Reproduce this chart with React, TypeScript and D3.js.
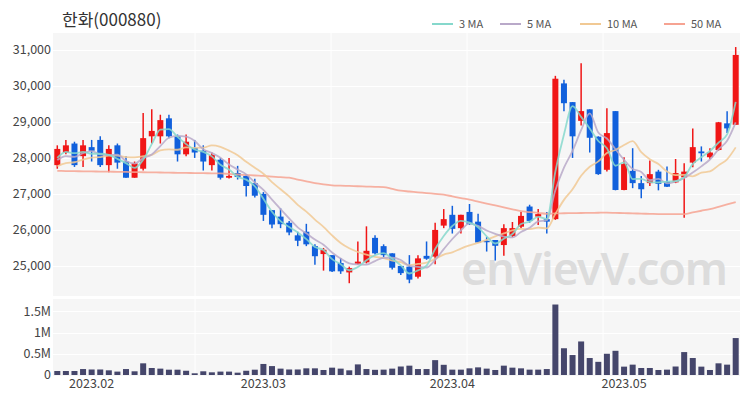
import React, { useEffect, useRef } from "react";
import * as d3 from "d3";

// trading days shown on the chart
const dates = [
  "2023-01-26", "2023-01-27", "2023-01-30", "2023-01-31",
  "2023-02-01", "2023-02-02", "2023-02-03", "2023-02-06", "2023-02-07", "2023-02-08", "2023-02-09", "2023-02-10",
  "2023-02-13", "2023-02-14", "2023-02-15", "2023-02-16", "2023-02-17", "2023-02-20", "2023-02-21", "2023-02-22",
  "2023-02-23", "2023-02-24", "2023-02-27", "2023-02-28",
  "2023-03-02", "2023-03-03", "2023-03-06", "2023-03-07", "2023-03-08", "2023-03-09", "2023-03-10", "2023-03-13",
  "2023-03-14", "2023-03-15", "2023-03-16", "2023-03-17", "2023-03-20", "2023-03-21", "2023-03-22", "2023-03-23",
  "2023-03-24", "2023-03-27", "2023-03-28", "2023-03-29", "2023-03-30", "2023-03-31",
  "2023-04-03", "2023-04-04", "2023-04-05", "2023-04-06", "2023-04-07", "2023-04-10", "2023-04-11", "2023-04-12",
  "2023-04-13", "2023-04-14", "2023-04-17", "2023-04-18", "2023-04-19", "2023-04-20", "2023-04-21", "2023-04-24",
  "2023-04-25", "2023-04-26", "2023-04-27", "2023-04-28",
  "2023-05-02", "2023-05-03", "2023-05-04", "2023-05-08", "2023-05-09", "2023-05-10", "2023-05-11", "2023-05-12",
  "2023-05-15", "2023-05-16", "2023-05-17", "2023-05-18", "2023-05-19", "2023-05-22",
];

const opens = [
  27800, 28150, 28400, 28050, 28300, 28500, 27800, 28350, 27900, 27450,
  27700, 28600, 28600, 29100, 28600, 28100, 28280, 28200, 27800, 27950,
  27450, 27580, 27500, 27300, 27000, 26550, 26370, 26200, 25850, 25950,
  25550, 25330, 25300, 25080, 24820, 25060, 25100, 25780, 25550, 25350,
  25000, 24980, 24700, 25280, 25260, 26120, 26420, 26050, 26500, 26230,
  25700, 25720, 25580, 25830, 26090, 26650, 26370, 26300, 26300, 30070,
  29550, 29030, 29350, 28590, 27670, 29300, 27110, 27640, 27300, 27300,
  27620, 27340, 27320, 27460, 27870, 28180, 28020, 28220, 28960, 28920,
];
const highs = [
  28350, 28500, 28450, 28500, 28500, 28600, 28350, 28400, 28050, 27900,
  29250, 29350, 29200, 29200, 28650, 28650, 28500, 28350, 28150, 28000,
  28000, 27780, 27550, 27420, 27050, 26550, 26600, 26250, 25950, 26170,
  25600, 25500, 25300, 25220, 24980, 25680, 26100, 25850, 25600, 25350,
  25000, 25300, 25300, 25680, 26200, 26580, 26670, 26420, 26720, 26450,
  25800, 25720, 26160, 26220, 26500, 26700, 26580, 26500, 30280, 30170,
  29550, 30630, 29350, 28600, 29380, 29300, 28020, 28270, 27500, 27930,
  27670, 27760, 27970, 27850, 28820, 28320, 28270, 29000, 29300, 31080,
];
const lows = [
  27700, 28100, 27750, 27750, 27900, 27750, 27600, 27700, 27450, 27450,
  27650, 28400, 28400, 28550, 27900, 28050, 28000, 27650, 27650, 27400,
  27430, 27400, 26930, 26900, 26250, 26050, 26050, 25850, 25550, 25550,
  25030, 24870, 24830, 24780, 24520, 25030, 25070, 25320, 25250, 24900,
  24750, 24520, 24650, 25170, 25050, 26050, 25900, 25900, 26140, 25650,
  25400, 25150, 25280, 25800, 26050, 26200, 26140, 25900, 26280, 29300,
  28000, 28900, 28150, 27530, 27620, 27100, 27100, 27160, 26880, 27220,
  27100, 27190, 27300, 26340, 27740, 27900, 27960, 28200, 28690, 28920,
];
const closes = [
  28250, 28350, 27800, 28350, 28200, 27800, 28250, 27870, 27450, 27850,
  28550, 28750, 29050, 28600, 28100, 28450, 28150, 27900, 28080, 27450,
  27500, 27470, 27220, 26950, 26420, 26150, 26160, 25930, 25700, 25600,
  25270, 25450, 24850, 24850, 24940, 25120, 25420, 25350, 25300, 24950,
  24800, 24620, 25210, 25200, 26000, 26300, 26030, 26420, 26160, 25650,
  25660, 25560, 26050, 26050, 26390, 26250, 26440, 26230, 30200, 29520,
  28600, 29300, 28560, 27550, 28690, 27110, 27830, 27300, 27130, 27550,
  27280, 27200, 27580, 27620, 28300, 28130, 28150, 28990, 28820, 30860,
];
// closes before the first visible day (estimated so the short averages start where they do)
const priorCloses = [27500, 27550, 27600, 27650, 27700, 27800, 27900, 27850, 27900];

// 50-day average
const ma50 = [
  27640, 27636, 27632, 27628, 27625, 27621, 27617, 27614, 27610, 27606,
  27602, 27598, 27595, 27591, 27587, 27584, 27580, 27577, 27573, 27570,
  27555, 27540, 27526, 27512, 27500, 27483, 27466, 27450, 27400, 27350,
  27300, 27265, 27240, 27230, 27222, 27213, 27205, 27197, 27190, 27140,
  27090, 27068, 27046, 27024, 27002, 26980, 26933, 26886, 26840, 26787,
  26733, 26680, 26627, 26573, 26520, 26497, 26473, 26450, 26460, 26463,
  26467, 26470, 26473, 26477, 26480, 26473, 26467, 26460, 26453, 26447,
  26440, 26440, 26440, 26440, 26487, 26533, 26580, 26643, 26707, 26770,
];

const volumes = [
  94000, 94000, 94000, 140000, 130000, 130000, 110000, 80000, 140000, 87000,
  275000, 165000, 150000, 125000, 125000, 100000, 40000, 87000, 63000, 80000,
  80000, 55000, 100000, 125000, 260000, 210000, 150000, 130000, 130000, 157000,
  157000, 118000, 173000, 150000, 110000, 250000, 140000, 122000, 126000, 150000,
  200000, 220000, 140000, 140000, 350000, 240000, 126000, 126000, 157000, 180000,
  150000, 118000, 220000, 173000, 157000, 126000, 126000, 140000, 1660000, 630000,
  470000, 790000, 400000, 310000, 500000, 570000, 197000, 244000, 165000, 165000,
  118000, 126000, 200000, 540000, 400000, 197000, 118000, 275000, 244000, 870000,
];

const priceTicks = [25000, 26000, 27000, 28000, 29000, 30000, 31000];
const volumeTicks = [0, 500000, 1000000, 1500000];
const volumeTickLabels = ["0", "0.5M", "1M", "1.5M"];
const monthStarts = ["2023-02-01", "2023-03-02", "2023-04-03", "2023-05-02"];
const monthLabels = ["2023.02", "2023.03", "2023.04", "2023.05"];

const maSeries = [
  { name: "3 MA", period: 3, color: "#86d8cc" },
  { name: "5 MA", period: 5, color: "#b9a9c9" },
  { name: "10 MA", period: 10, color: "#f1c994" },
  { name: "50 MA", period: 50, color: "#f6a392" },
];

const UP = "#f01616";
const DOWN = "#1160dc";
const FONT = "'Noto Sans CJK KR', 'Noto Sans', sans-serif";

const App: React.FC = () => {
  const svgRef = useRef<SVGSVGElement>(null);

  useEffect(() => {
    if (!svgRef.current) return;
    const svg = d3.select(svgRef.current);
    svg.selectAll("*").remove();

    const left = 53;
    const right = 740;
    const priceTop = 33;
    const priceBottom = 296;
    const volTop = 299;
    const volBottom = 376;

    const x = d3.scalePoint<string>().domain(dates).range([left, right]).padding(0.5);
    const y = d3.scaleLinear().domain([24165, 31470]).range([priceBottom, priceTop]);
    const yv = d3.scaleLinear().domain([0, 1790000]).range([375, volTop]);
    const bodyW = 6;

    // panels
    svg.append("rect").attr("x", left).attr("y", priceTop)
      .attr("width", right - left).attr("height", priceBottom - priceTop).attr("fill", "#f6f6f6");
    svg.append("rect").attr("x", left).attr("y", volTop)
      .attr("width", right - left).attr("height", volBottom - volTop).attr("fill", "#f6f6f6");

    // grid
    const vLines = d3.range(1, 5).map((k) => 59 + k * 136);
    const grid = svg.append("g").attr("stroke", "#ffffff").attr("stroke-width", 1);
    grid.selectAll(".hp").data(priceTicks).join("line")
      .attr("x1", left).attr("x2", right)
      .attr("y1", (d) => Math.round(y(d)) + 0.5).attr("y2", (d) => Math.round(y(d)) + 0.5);
    grid.selectAll(".hv").data(volumeTicks.slice(1)).join("line")
      .attr("x1", left).attr("x2", right)
      .attr("y1", (d) => Math.round(yv(d)) + 0.5).attr("y2", (d) => Math.round(yv(d)) + 0.5);
    vLines.forEach((vx) => {
      grid.append("line").attr("x1", vx).attr("x2", vx).attr("y1", priceTop).attr("y2", priceBottom);
      grid.append("line").attr("x1", vx).attr("x2", vx).attr("y1", volTop).attr("y2", volBottom);
    });

    // watermark
    svg.append("text")
      .attr("x", 461).attr("y", 285)
      .attr("font-family", "'Noto Sans', sans-serif")
      .attr("font-size", 45)
      .attr("font-weight", 600)
      .attr("fill", "#dcdcdc")
      .attr("textLength", 267)
      .text("enVievV.com");

    // candles
    const idx = d3.range(dates.length);
    const candles = svg.append("g");
    candles.selectAll("line").data(idx).join("line")
      .attr("x1", (i) => x(dates[i])!).attr("x2", (i) => x(dates[i])!)
      .attr("y1", (i) => y(highs[i])).attr("y2", (i) => y(lows[i]))
      .attr("stroke", (i) => (closes[i] >= opens[i] ? UP : DOWN))
      .attr("stroke-width", 1.5);
    candles.selectAll("rect").data(idx).join("rect")
      .attr("x", (i) => x(dates[i])! - bodyW / 2)
      .attr("width", bodyW)
      .attr("y", (i) => y(Math.max(opens[i], closes[i])))
      .attr("height", (i) => Math.max(1.5, Math.abs(y(opens[i]) - y(closes[i]))))
      .attr("fill", (i) => (closes[i] >= opens[i] ? UP : DOWN));

    // moving averages
    const allCloses = priorCloses.concat(closes);
    const off = priorCloses.length;
    const line = d3.line<number>()
      .x((_, i) => x(dates[i])!)
      .y((v) => y(v))
      .curve(d3.curveMonotoneX);
    const maValues = (p: number) =>
      p === 50 ? ma50 : closes.map((_, i) => d3.mean(allCloses.slice(i + off - p + 1, i + off + 1))!);
    [...maSeries].reverse().forEach((s) => {
      svg.append("path")
        .attr("d", line(maValues(s.period)))
        .attr("fill", "none")
        .attr("stroke", s.color)
        .attr("stroke-width", 1.8)
        .attr("opacity", 0.85);
    });

    // volume
    svg.append("g").selectAll("rect").data(idx).join("rect")
      .attr("x", (i) => x(dates[i])! - bodyW / 2)
      .attr("width", bodyW)
      .attr("y", (i) => yv(volumes[i]))
      .attr("height", (i) => yv(0) - yv(volumes[i]))
      .attr("fill", "#45466b");

    // axis labels
    const labels = svg.append("g").attr("font-family", FONT).attr("fill", "#444").attr("font-size", 12.5);
    labels.selectAll(".py").data(priceTicks).join("text")
      .attr("x", 51).attr("y", (d) => y(d)).attr("dy", "0.35em").attr("text-anchor", "end")
      .text((d) => d3.format(",")(d));
    labels.selectAll(".vy").data(volumeTicks).join("text")
      .attr("x", 51).attr("y", (d) => yv(d)).attr("dy", "0.35em").attr("text-anchor", "end")
      .text((_, i) => volumeTickLabels[i]);
    labels.selectAll(".mx").data(monthStarts).join("text")
      .attr("x", (d) => x(d)!).attr("y", 388).attr("text-anchor", "middle")
      .text((_, i) => monthLabels[i]);

    // title
    svg.append("text")
      .attr("x", 62).attr("y", 26)
      .attr("font-family", FONT).attr("font-size", 17).attr("fill", "#333")
      .text("한화(000880)");

    // legend
    const legendX = [432, 500, 580, 664];
    const legend = svg.append("g").attr("font-family", FONT).attr("font-size", 11).attr("fill", "#555");
    maSeries.forEach((s, i) => {
      legend.append("line")
        .attr("x1", legendX[i]).attr("x2", legendX[i] + 21)
        .attr("y1", 24).attr("y2", 24)
        .attr("stroke", s.color).attr("stroke-width", 2);
      legend.append("text")
        .attr("x", legendX[i] + 27).attr("y", 28)
        .text(s.name);
    });
  }, []);

  return (
    <svg
      ref={svgRef}
      width={750}
      height={400}
      style={{ position: "absolute", left: 0, top: 0, background: "#fff" }}
    />
  );
};

export default App;
